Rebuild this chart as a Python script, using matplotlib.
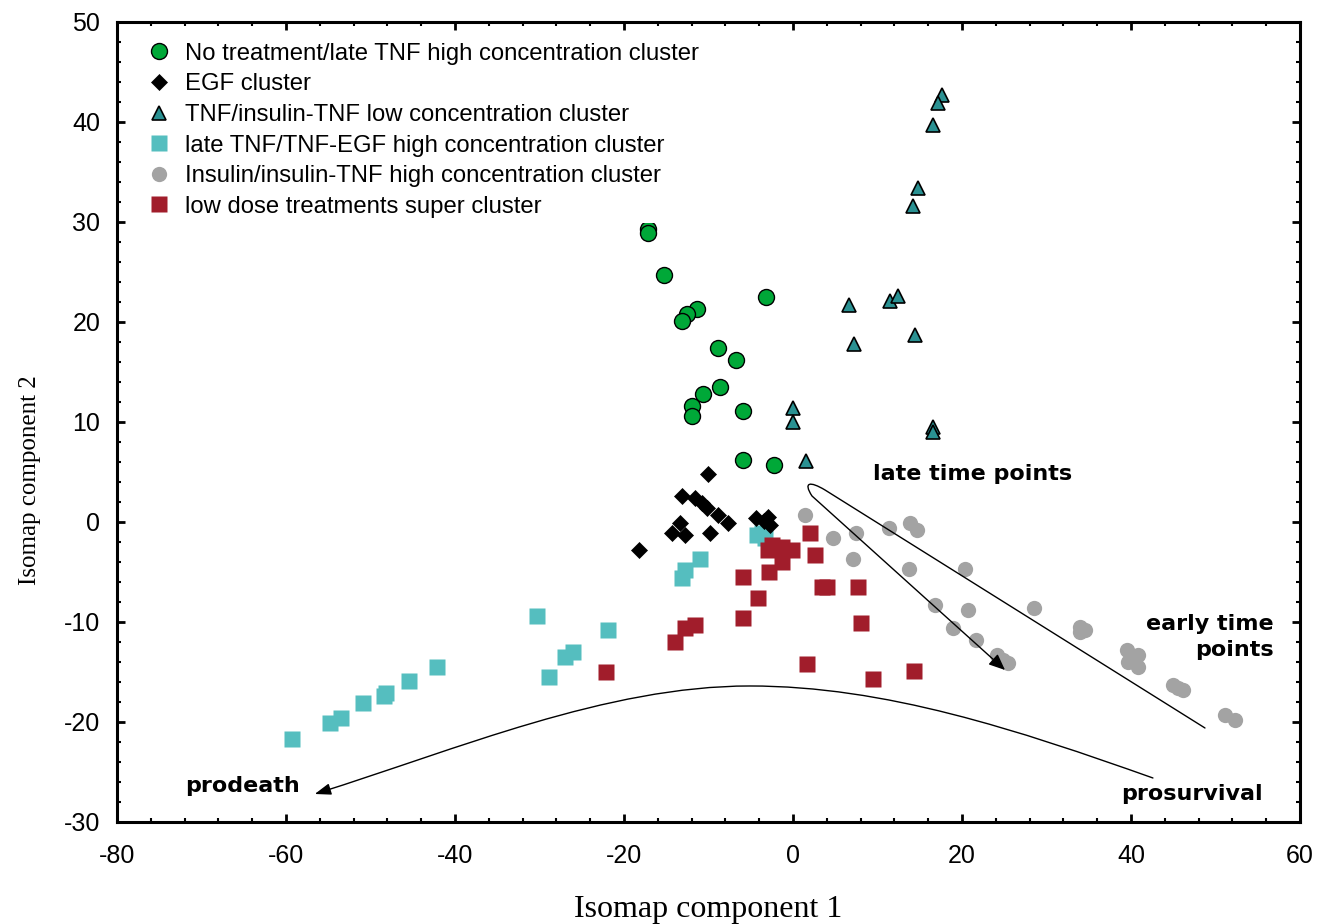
import numpy as np
import matplotlib
matplotlib.use("Agg")
import matplotlib.pyplot as plt
from matplotlib.path import Path
from matplotlib.patches import FancyArrowPatch
from matplotlib.ticker import MultipleLocator

plt.rcParams['axes.unicode_minus'] = False

# --- cluster coordinates (Isomap comp. 1, comp. 2) ---
notreat_x = [-17.2, -17.2, -15.3, -3.2, -11.4, -12.5, -13.1, -8.9, -6.7, -8.6,
             -10.7, -12.0, -12.0, -5.9, -5.9, -2.2]
notreat_y = [29.3, 28.9, 24.7, 22.5, 21.3, 20.8, 20.1, 17.4, 16.2, 13.5,
             12.8, 11.6, 10.6, 11.1, 6.2, 5.7]

egf_x = [-10.1, -13.1, -11.6, -10.8, -10.2, -8.9, -7.7, -13.4, -14.3, -12.8,
         -9.8, -18.2, -4.4, -3.0, -2.7, -3.4]
egf_y = [4.8, 2.6, 2.4, 1.9, 1.4, 0.7, -0.1, -0.1, -1.1, -1.3,
         -1.1, -2.8, 0.4, 0.5, -0.3, 0.1]

tnf_low_x = [17.6, 17.2, 16.6, 14.8, 14.2, 6.6, 11.5, 12.4, 14.4, 7.2,
             0.0, 0.0, 16.6, 16.6, 1.5]
tnf_low_y = [42.7, 41.9, 39.7, 33.4, 31.6, 21.7, 22.1, 22.6, 18.7, 17.8,
             11.4, 10.0, 9.5, 9.0, 6.1]

late_tnf_x = [-59.3, -54.8, -53.5, -50.9, -48.4, -48.2, -45.4, -42.1, -30.3, -28.9,
              -27.0, -26.0, -21.9, -11.0, -12.8, -13.1, -3.7, -4.3, -3.3]
late_tnf_y = [-21.7, -20.1, -19.6, -18.1, -17.4, -17.1, -15.9, -14.5, -9.4, -15.5,
              -13.5, -13.0, -10.8, -3.7, -4.8, -5.6, -1.1, -1.3, -1.6]

insulin_x = [1.4, 4.7, 7.5, 7.1, 11.4, 13.8, 14.7, 13.7, 20.4, 16.8,
             20.7, 18.9, 21.7, 24.1, 25.4, 24.8, 28.5, 34.0, 34.6, 34.0,
             39.5, 40.8, 39.6, 40.8, 45.0, 46.2, 45.6, 51.1, 52.3]
insulin_y = [0.7, -1.6, -1.1, -3.7, -0.6, -0.1, -0.8, -4.7, -4.7, -8.3,
             -8.8, -10.6, -11.8, -13.3, -14.1, -13.8, -8.6, -10.5, -10.8, -11.0,
             -12.8, -13.3, -14.0, -14.5, -16.3, -16.8, -16.6, -19.3, -19.8]

lowdose_x = [-22.1, 2.0, -2.5, -1.3, -0.1, -3.0, -1.3, -2.8, -5.9, 2.6,
             -4.1, -5.9, 3.4, 4.0, 7.7, 8.0, -11.6, -12.8, -14.0, 1.7,
             9.5, 14.3]
lowdose_y = [-15.0, -1.1, -2.3, -2.5, -2.8, -2.8, -4.0, -5.0, -5.5, -3.3,
             -7.6, -9.6, -6.5, -6.5, -6.5, -10.1, -10.3, -10.6, -12.0, -14.2,
             -15.7, -14.9]

labels = ["No treatment/late TNF high concentration cluster",
          "EGF cluster",
          "TNF/insulin-TNF low concentration cluster",
          "late TNF/TNF-EGF high concentration cluster",
          "Insulin/insulin-TNF high concentration cluster",
          "low dose treatments super cluster"]

fig = plt.figure(figsize=(13.18, 9.24), dpi=100)
ax = fig.add_axes([0.0888, 0.1104, 0.8975, 0.8658])

ax.plot(notreat_x, notreat_y, 'o', ms=11.5, mfc='#00A838', mec='black', mew=1.0,
        label=labels[0], zorder=3)
ax.plot(egf_x, egf_y, 'D', ms=8, mfc='black', mec='black', mew=0.5,
        label=labels[1], zorder=3)
ax.plot(tnf_low_x, tnf_low_y, '^', ms=10.5, mfc='#2A9192', mec='black', mew=1.2,
        label=labels[2], zorder=3)
ax.plot(late_tnf_x, late_tnf_y, 's', ms=11, mfc='#55BEBF', mec='none',
        label=labels[3], zorder=2)
ax.plot(insulin_x, insulin_y, 'o', ms=11, mfc='#A3A3A3', mec='none',
        label=labels[4], zorder=2)
ax.plot(lowdose_x, lowdose_y, 's', ms=11, mfc='#A11D2B', mec='none',
        label=labels[5], zorder=2)

# hairpin arrow: early -> late time points
hair = Path([(48.76, -20.6), (3.79, 3.2), (2.01, 4.1), (1.18, 4.0), (2.25, 2.6), (25.09, -14.8)],
            [Path.MOVETO, Path.LINETO, Path.CURVE4, Path.CURVE4, Path.CURVE4, Path.LINETO])
ax.add_patch(FancyArrowPatch(path=hair, arrowstyle='-|>,head_length=0.7,head_width=0.3',
                             mutation_scale=14, lw=1.0, color='black', zorder=4))

# prosurvival -> prodeath arc
arc = Path([(42.6, -25.6), (26.6, -20.8), (10.9, -16.4), (-5.1, -16.4),
            (-22.1, -16.4), (-39.6, -22.7), (-56.6, -27.2)],
           [Path.MOVETO, Path.CURVE4, Path.CURVE4, Path.CURVE4,
            Path.CURVE4, Path.CURVE4, Path.CURVE4])
ax.add_patch(FancyArrowPatch(path=arc, arrowstyle='-|>,head_length=0.7,head_width=0.25',
                             mutation_scale=14, lw=1.0, color='black', zorder=4))

note_font = dict(fontsize=16, fontweight='bold', family='DejaVu Sans')
ax.text(21.3, 4.8, "late time points", ha='center', va='center', **note_font)
ax.text(56.9, -11.5, "early time\npoints", ha='right', va='center', linespacing=1.4, **note_font)
ax.text(-65.2, -26.4, "prodeath", ha='center', va='center', **note_font)
ax.text(47.2, -27.2, "prosurvival", ha='center', va='center', **note_font)

ax.set_xlim(-80, 60)
ax.set_ylim(-30, 50)
ax.xaxis.set_major_locator(MultipleLocator(20))
ax.xaxis.set_minor_locator(MultipleLocator(4))
ax.yaxis.set_major_locator(MultipleLocator(10))
ax.yaxis.set_minor_locator(MultipleLocator(2))
ax.tick_params(which='both', direction='in', top=True, right=True, colors='black')
ax.tick_params(which='major', length=6, width=2)
ax.tick_params(which='minor', length=3, width=1.5)
ax.tick_params(axis='x', which='major', pad=16, labelsize=18)
ax.tick_params(axis='y', which='major', pad=12, labelsize=18)
for lab in ax.get_xticklabels() + ax.get_yticklabels():
    lab.set_family('Liberation Sans')
for sp in ax.spines.values():
    sp.set_linewidth(2.2)

ax.set_xlabel("Isomap component 1", family='Liberation Serif', fontsize=23)
ax.xaxis.set_label_coords(0.5, -0.091)
ax.set_ylabel("Isomap component 2", family='Liberation Serif', fontsize=18)
ax.yaxis.set_label_coords(-0.064, 0.4275)

leg = ax.legend(loc='upper left', bbox_to_anchor=(0.021, 0.98), borderaxespad=0,
                frameon=True, framealpha=1, facecolor='white', edgecolor='none',
                fancybox=False, handlelength=1.0, handletextpad=0.6, labelspacing=0.36,
                borderpad=0.2, markerscale=1.0,
                prop={'family': 'Liberation Sans', 'size': 17.2})

fig.savefig("out.png", dpi=100)
